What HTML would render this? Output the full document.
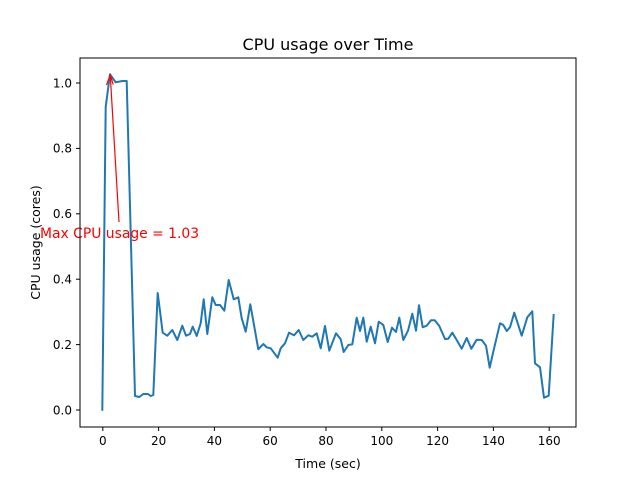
<!DOCTYPE html><html><head><style>body{margin:0;background:#fff}</style></head><body>
<svg width="640" height="480" xmlns="http://www.w3.org/2000/svg" font-family="DejaVu Sans, sans-serif">
<rect width="640" height="480" fill="#fff"/>
<polyline fill="none" stroke="#1f77b4" stroke-width="2" stroke-linejoin="round" points="102.3,410.7 105.7,106.7 110,74.3 115.7,82.3 122.3,81 126.7,81 135,396 139.3,397 143.3,394 148,394 150.7,396 153.3,395 157.7,293 162.7,332.7 167.3,335.7 172.3,330 177.3,340 182.3,325.7 186,335.7 190,334 192.7,326.7 196.7,336 200.7,323.3 203.7,299.3 207.3,334 212.3,297.3 215.7,305 220,305 224.3,310.7 228.7,280 233.7,299.3 238.3,297.3 241.7,318.3 245.7,331.7 250.3,304.3 253.7,323.3 258.3,349.3 263.3,344 266.7,347.3 270.7,348.3 277.7,357.7 280.7,348.3 285,343.3 289,332.7 294,335.3 298.7,330 303.3,340 308.3,335.3 312.3,336.7 316.7,333.3 320.7,348.3 325,326 329.3,350.7 336,333.3 340.7,339.3 343.7,352 348.3,345 352.3,344.3 356.7,317.7 360,331 363.3,317.7 366.7,341.7 370.7,326.7 375,343.3 378.7,321.7 383.3,325 387.7,342 392,327.7 396,332 399.3,317.7 403.3,340 408,330.7 412.3,313.7 416,330.7 419,305.3 422.7,327.3 426.7,325.7 431,320.3 434.7,320.3 439.3,326 445,339 448.3,338.7 452.3,332.7 457.3,341 461.7,348.7 466.7,338 471.3,348.7 476.7,339.7 481.7,340 486,345.7 489.7,367.7 493.3,351.7 500,323.3 503.3,325 506.7,331 510,327.3 514.3,312.7 521.7,335.7 527.3,317.3 532.3,311.3 535,363.3 540,367.3 544,397.7 548.7,395.7 553.7,314"/>
<line x1="119" y1="222" x2="110.3" y2="76" stroke="red" stroke-width="1.2"/>
<polyline points="106.5,85 110.2,75 113.2,84.6" fill="none" stroke="red" stroke-width="1.2"/>
<text x="40" y="238" font-size="13.9" fill="red">Max CPU usage = 1.03</text>
<rect x="80" y="58" width="496" height="369" fill="none" stroke="#000" stroke-width="1"/>
<g stroke="#000" stroke-width="1">
<line x1="102.8" y1="427" x2="102.8" y2="431"/><line x1="158.6" y1="427" x2="158.6" y2="431"/><line x1="214.4" y1="427" x2="214.4" y2="431"/><line x1="270.2" y1="427" x2="270.2" y2="431"/><line x1="326" y1="427" x2="326" y2="431"/><line x1="381.8" y1="427" x2="381.8" y2="431"/><line x1="437.6" y1="427" x2="437.6" y2="431"/><line x1="493.4" y1="427" x2="493.4" y2="431"/><line x1="549.2" y1="427" x2="549.2" y2="431"/>
<line x1="76" y1="410" x2="80" y2="410"/><line x1="76" y1="344.6" x2="80" y2="344.6"/><line x1="76" y1="279.2" x2="80" y2="279.2"/><line x1="76" y1="213.8" x2="80" y2="213.8"/><line x1="76" y1="148.4" x2="80" y2="148.4"/><line x1="76" y1="83" x2="80" y2="83"/>
</g>
<g font-size="12" text-anchor="middle" fill="#000">
<text x="102.8" y="445">0</text><text x="158.6" y="445">20</text><text x="214.4" y="445">40</text><text x="270.2" y="445">60</text><text x="326" y="445">80</text><text x="381.8" y="445">100</text><text x="437.6" y="445">120</text><text x="493.4" y="445">140</text><text x="549.2" y="445">160</text>
</g>
<g font-size="12" text-anchor="end" fill="#000">
<text x="72" y="414.5">0.0</text><text x="72" y="349">0.2</text><text x="72" y="283.5">0.4</text><text x="72" y="218">0.6</text><text x="72" y="152.5">0.8</text><text x="72" y="87.5">1.0</text>
</g>
<text x="328" y="468" font-size="12.5" text-anchor="middle">Time (sec)</text>
<text transform="translate(40,242.5) rotate(-90)" font-size="12.5" text-anchor="middle">CPU usage (cores)</text>
<text x="328" y="50" font-size="16" text-anchor="middle">CPU usage over Time</text>
</svg>
</body></html>
